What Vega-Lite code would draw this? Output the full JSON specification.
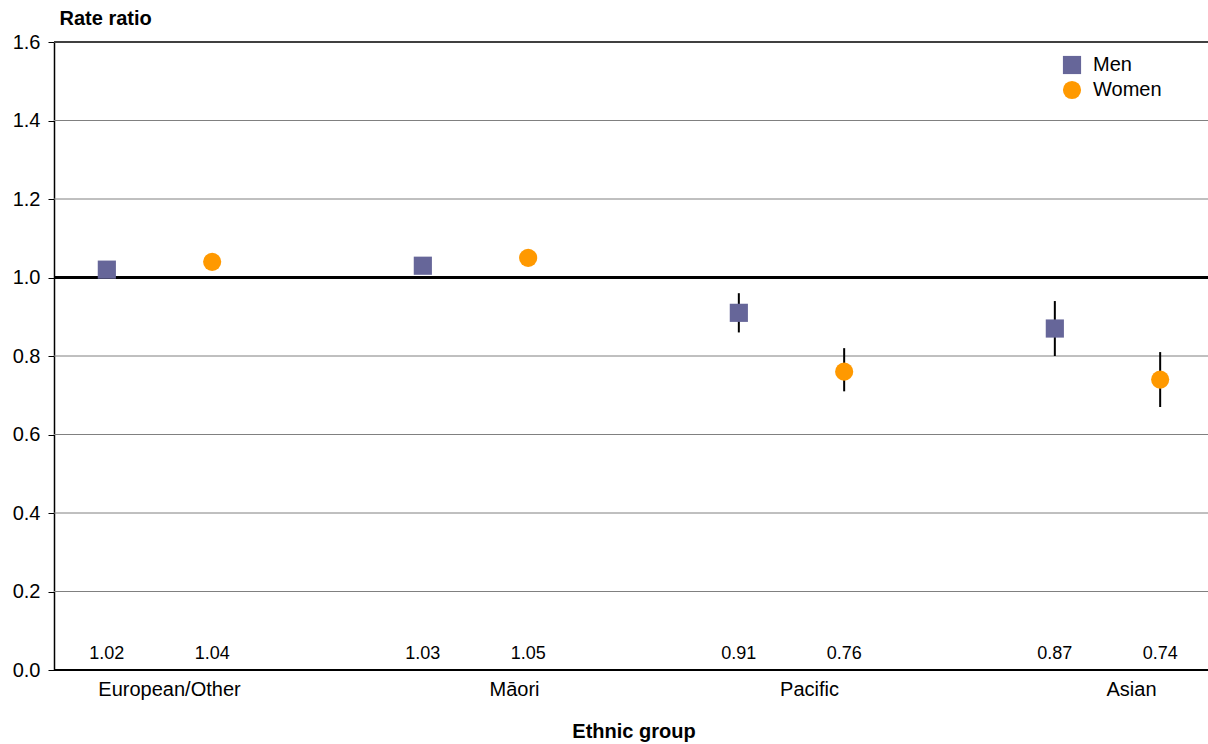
{
  "$schema": "https://vega.github.io/schema/vega-lite/v6.json",
  "width": 1154,
  "height": 628,
  "autosize": "none",
  "padding": {"left": 54, "top": 42, "right": 0, "bottom": 74},
  "background": "white",
  "config": {
    "view": {"stroke": null},
    "font": "Liberation Sans",
    "text": {"font": "Liberation Sans"}
  },
  "data": {
    "values": [
      {"group": "European/Other", "sex": "Men", "value": 1.02, "lo": 1.0, "hi": 1.04},
      {"group": "European/Other", "sex": "Women", "value": 1.04, "lo": 1.02, "hi": 1.06},
      {"group": "Māori", "sex": "Men", "value": 1.03, "lo": 1.01, "hi": 1.05},
      {"group": "Māori", "sex": "Women", "value": 1.05, "lo": 1.03, "hi": 1.07},
      {"group": "Pacific", "sex": "Men", "value": 0.91, "lo": 0.86, "hi": 0.96},
      {"group": "Pacific", "sex": "Women", "value": 0.76, "lo": 0.71, "hi": 0.82},
      {"group": "Asian", "sex": "Men", "value": 0.87, "lo": 0.8, "hi": 0.94},
      {"group": "Asian", "sex": "Women", "value": 0.74, "lo": 0.67, "hi": 0.81}
    ]
  },
  "layer": [
    {
      "data": {"values": [{"tick": 0.2}, {"tick": 0.4}, {"tick": 0.6}, {"tick": 0.8}, {"tick": 1.2}, {"tick": 1.4}]},
      "mark": {"type": "rule", "color": "#808080", "strokeWidth": 1},
      "encoding": {"y": {"field": "tick", "type": "quantitative"}}
    },
    {
      "mark": {"type": "rule", "color": "#404040", "strokeWidth": 1.5},
      "encoding": {"y": {"datum": 1.6, "type": "quantitative"}}
    },
    {
      "mark": {"type": "rule", "color": "black", "strokeWidth": 2},
      "encoding": {
        "x": {
          "field": "group", "type": "nominal",
          "sort": ["European/Other", "Māori", "Pacific", "Asian"],
          "scale": {"range": [-52.5, 1211.5], "paddingInner": 0, "paddingOuter": 0},
          "axis": {
            "title": "Ethnic group",
            "titleFontSize": 20, "titleFontWeight": "bold", "titleColor": "black", "titlePadding": 22,
            "labelAngle": 0, "labelFontSize": 20, "labelColor": "black", "labelPadding": 9,
            "labelOffset": {"condition": [
              {"test": "datum.value === 'European/Other'", "value": 10},
              {"test": "datum.value === 'Māori'", "value": 39},
              {"test": "datum.value === 'Pacific'", "value": 18}
            ], "value": 24},
            "ticks": false, "grid": false, "domain": false
          }
        },
        "xOffset": {"field": "sex", "type": "nominal", "sort": ["Men", "Women"], "scale": {"paddingInner": 0, "paddingOuter": 0.5}},
        "y": {
          "field": "lo", "type": "quantitative",
          "scale": {"domain": [0, 1.6], "nice": false, "zero": true},
          "axis": {
            "values": [0, 0.2, 0.4, 0.6, 0.8, 1.0, 1.2, 1.4, 1.6],
            "format": ".1f",
            "title": "Rate ratio",
            "titleAngle": 0, "titleAlign": "left", "titleBaseline": "alphabetic",
            "titleX": 5, "titleY": -18,
            "titleFontSize": 20, "titleFontWeight": "bold", "titleColor": "black",
            "labelFontSize": 20, "labelColor": "black", "labelPadding": 8,
            "tickSize": 6, "tickColor": "black", "domainColor": "black", "domainWidth": 1.5,
            "grid": false
          }
        },
        "y2": {"field": "hi"}
      }
    },
    {
      "mark": {"type": "rule", "color": "black", "strokeWidth": 2.5},
      "encoding": {"y": {"datum": 1.0, "type": "quantitative"}}
    },
    {
      "mark": {"type": "rule", "color": "black", "strokeWidth": 1.5},
      "encoding": {"y": {"datum": 0, "type": "quantitative"}}
    },
    {
      "mark": {"type": "point", "filled": true, "opacity": 1, "size": 330},
      "encoding": {
        "x": {"field": "group", "type": "nominal", "sort": ["European/Other", "Māori", "Pacific", "Asian"]},
        "xOffset": {"field": "sex", "type": "nominal", "sort": ["Men", "Women"]},
        "y": {"field": "value", "type": "quantitative"},
        "shape": {"field": "sex", "type": "nominal", "scale": {"domain": ["Men", "Women"], "range": ["square", "circle"]}, "legend": {"title": null, "orient": "none", "legendX": 1008, "legendY": 13, "labelFontSize": 20, "labelColor": "black", "symbolSize": 330, "rowPadding": 5, "labelOffset": 11, "padding": 0}},
        "color": {"field": "sex", "type": "nominal", "scale": {"domain": ["Men", "Women"], "range": ["#666699", "#FF9900"]}, "legend": {"title": null, "orient": "none", "legendX": 1008, "legendY": 13, "labelFontSize": 20, "labelColor": "black", "symbolSize": 330, "rowPadding": 5, "labelOffset": 11, "padding": 0}}
      }
    },
    {
      "mark": {"type": "text", "fontSize": 18, "color": "black", "baseline": "middle"},
      "encoding": {
        "x": {"field": "group", "type": "nominal", "sort": ["European/Other", "Māori", "Pacific", "Asian"]},
        "xOffset": {"field": "sex", "type": "nominal", "sort": ["Men", "Women"]},
        "y": {"datum": 0.04, "type": "quantitative"},
        "text": {"field": "value", "type": "quantitative", "format": ".2f"}
      }
    }
  ]
}
